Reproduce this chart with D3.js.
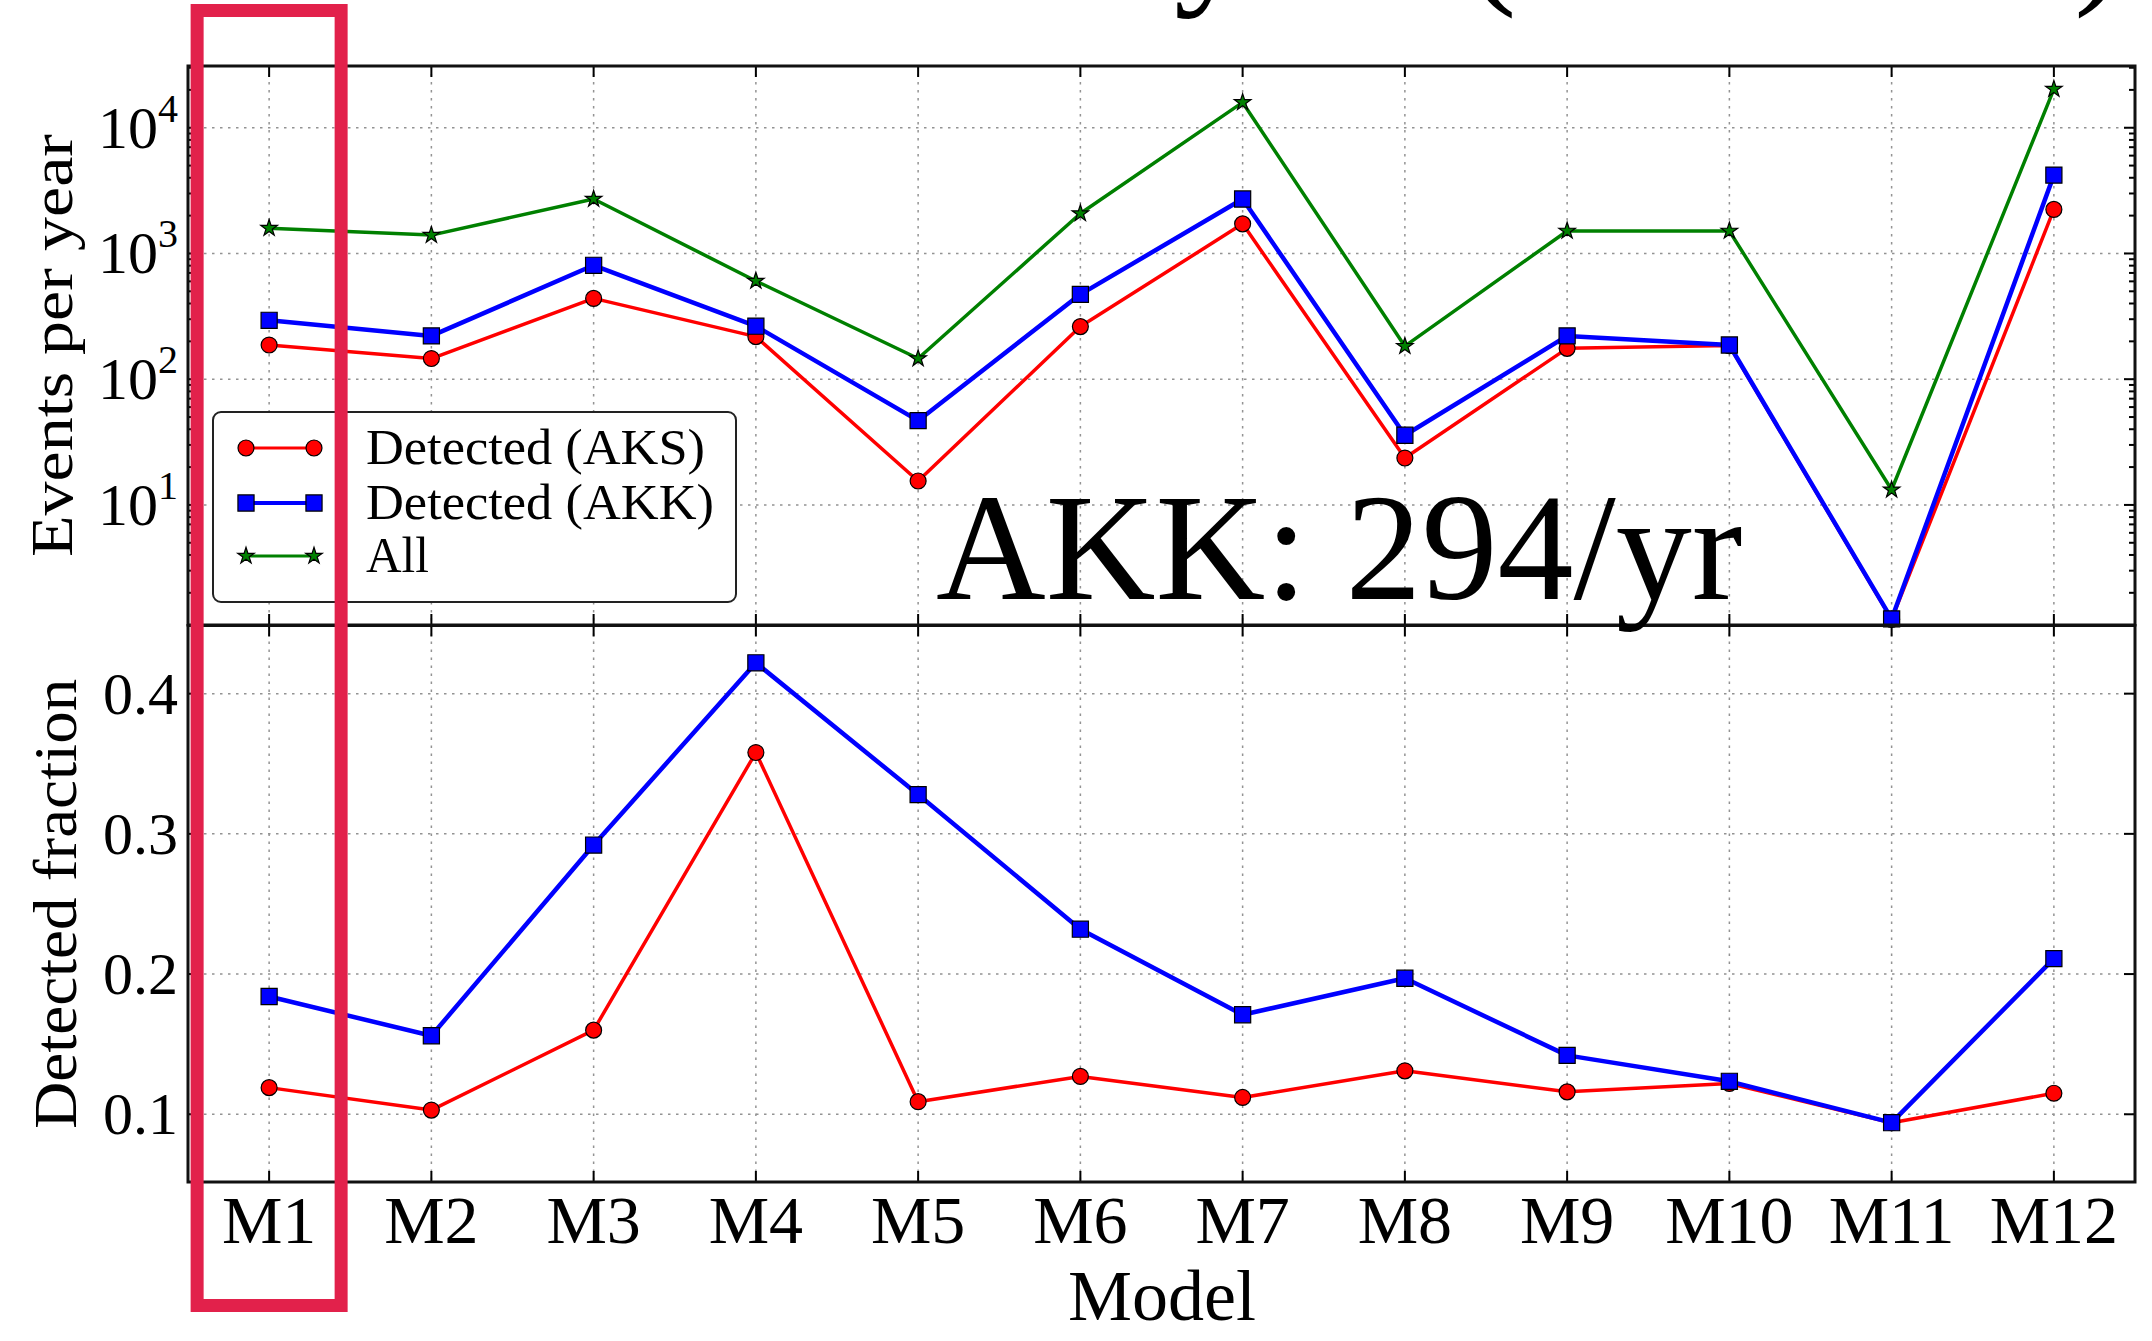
<!DOCTYPE html>
<html>
<head>
<meta charset="utf-8">
<script src="https://cdn.jsdelivr.net/npm/d3@7"></script>
<style>
  html, body { margin: 0; padding: 0; background: #fff; }
  svg { display: block; }
  text { font-family: "Liberation Serif", "Times New Roman", serif; fill: #000; }
</style>
</head>
<body>
<svg id="chart" width="2152" height="1341"></svg>
<script>
// Models on the x axis
const models = ["M1", "M2", "M3", "M4", "M5", "M6", "M7", "M8", "M9", "M10", "M11", "M12"];

// Events per year (upper panel, log scale)
const allEvents = [1590, 1400, 2710, 604, 146, 2080, 15900, 183, 1510, 1510, 13.2, 20300];
const aksEvents = [187, 146, 439, 218, 15.5, 262, 1720, 23.6, 176, 185, 1.23, 2240];
const akkEvents = [294, 221, 805, 264, 46.8, 473, 2710, 35.8, 221, 187, 1.24, 4200];

// Detected fraction (lower panel)
const aksFraction = [0.119, 0.103, 0.160, 0.358, 0.109, 0.127, 0.112, 0.131, 0.116, 0.122, 0.094, 0.115];
const akkFraction = [0.184, 0.156, 0.292, 0.422, 0.328, 0.232, 0.171, 0.197, 0.142, 0.1235, 0.094, 0.211];

// Tick values
const eventTickExponents = [1, 2, 3, 4];
const fractionTicks = [0.1, 0.2, 0.3, 0.4];

// Legend entries
const legendLabels = ["Detected (AKS)", "Detected (AKK)", "All"];

// Annotation
const highlightModel = "M1";
const annotationText = "AKK: 294/yr";

const svg = d3.select("#chart");
svg.append("rect").attr("width", 2152).attr("height", 1341).attr("fill", "#fff");

const left = 188, right = 2135;
const topY0 = 66, topY1 = 625;
const botY0 = 625.5, botY1 = 1182;

const x = d3.scaleLinear().domain([0.5, models.length + 0.5]).range([left, right]);
const yTop = d3.scaleLog().domain([Math.pow(10, 0.045), Math.pow(10, 4.491)]).range([topY1, topY0]);
const yBot = d3.scaleLinear().domain([0.0517, 0.4486]).range([botY1, botY0]);

const idx = models.map((m, i) => i + 1);

const colors = { aks: "#ff0000", akk: "#0000ff", all: "#008000" };

// ---------- grid ----------
const grid = svg.append("g").attr("stroke", "#666").attr("stroke-width", 1.5)
  .attr("stroke-dasharray", "2.5,5.5").attr("opacity", 0.7);

idx.forEach(i => {
  grid.append("line").attr("x1", x(i)).attr("x2", x(i)).attr("y1", topY0).attr("y2", topY1);
  grid.append("line").attr("x1", x(i)).attr("x2", x(i)).attr("y1", botY0).attr("y2", botY1);
});
eventTickExponents.forEach(e => {
  const yy = yTop(Math.pow(10, e));
  grid.append("line").attr("x1", left).attr("x2", right).attr("y1", yy).attr("y2", yy);
});
fractionTicks.forEach(v => {
  grid.append("line").attr("x1", left).attr("x2", right).attr("y1", yBot(v)).attr("y2", yBot(v));
});

// ---------- ticks (inward, on all four sides) ----------
const ticks = svg.append("g").attr("stroke", "#000").attr("stroke-width", 2);
const majorLen = 11, minorLen = 6;
idx.forEach(i => {
  [[topY0, 1], [topY1, -1], [botY0, 1], [botY1, -1]].forEach(([yy, dir]) => {
    ticks.append("line").attr("x1", x(i)).attr("x2", x(i)).attr("y1", yy).attr("y2", yy + dir * majorLen);
  });
});
// log axis: major and minor ticks
const [lo, hi] = yTop.domain();
for (let e = 0; e <= 4; e++) {
  for (let m = 1; m <= 9; m++) {
    const v = m * Math.pow(10, e);
    if (v < lo || v > hi) continue;
    const len = m === 1 ? majorLen : minorLen;
    const yy = yTop(v);
    ticks.append("line").attr("x1", left).attr("x2", left + len).attr("y1", yy).attr("y2", yy);
    ticks.append("line").attr("x1", right).attr("x2", right - len).attr("y1", yy).attr("y2", yy);
  }
}
fractionTicks.forEach(v => {
  const yy = yBot(v);
  ticks.append("line").attr("x1", left).attr("x2", left + majorLen).attr("y1", yy).attr("y2", yy);
  ticks.append("line").attr("x1", right).attr("x2", right - majorLen).attr("y1", yy).attr("y2", yy);
});

// ---------- series ----------
function drawSeries(g, values, yScale, color, width, marker) {
  const line = d3.line().x((d, i) => x(i + 1)).y(d => yScale(d));
  g.append("path").datum(values).attr("d", line).attr("fill", "none")
    .attr("stroke", color).attr("stroke-width", width).attr("stroke-linejoin", "round");
  const sym = d3.symbol().type(marker.type).size(marker.size);
  g.selectAll(null).data(values).enter().append("path")
    .attr("d", sym)
    .attr("transform", (d, i) => `translate(${x(i + 1)},${yScale(d)})`)
    .attr("fill", color).attr("stroke", "#000").attr("stroke-width", 1.2);
}
const circleMk = { type: d3.symbolCircle, size: 200 };
const squareMk = { type: d3.symbolSquare, size: 260 };
const starMk = { type: d3.symbolStar, size: 85 };

const upper = svg.append("g");
drawSeries(upper, aksEvents, yTop, colors.aks, 3.5, circleMk);
drawSeries(upper, akkEvents, yTop, colors.akk, 4.5, squareMk);
drawSeries(upper, allEvents, yTop, colors.all, 3.5, starMk);

const lower = svg.append("g");
drawSeries(lower, aksFraction, yBot, colors.aks, 3.5, circleMk);
drawSeries(lower, akkFraction, yBot, colors.akk, 4.5, squareMk);

// ---------- frames ----------
svg.append("rect").attr("x", left).attr("y", topY0).attr("width", right - left).attr("height", topY1 - topY0)
  .attr("fill", "none").attr("stroke", "#111").attr("stroke-width", 3);
svg.append("rect").attr("x", left).attr("y", botY0).attr("width", right - left).attr("height", botY1 - botY0)
  .attr("fill", "none").attr("stroke", "#111").attr("stroke-width", 3);

// ---------- tick labels ----------
eventTickExponents.forEach(e => {
  const t = svg.append("text").attr("x", 178).attr("y", yTop(Math.pow(10, e)) + 20)
    .attr("text-anchor", "end").attr("font-size", 60);
  t.append("tspan").text("10");
  t.append("tspan").attr("dy", -26).attr("font-size", 40).text(String(e));
});
fractionTicks.forEach(v => {
  svg.append("text").attr("x", 178).attr("y", yBot(v) + 20).attr("text-anchor", "end")
    .attr("font-size", 60).text(d3.format(".1f")(v));
});
models.forEach((m, i) => {
  svg.append("text").attr("x", x(i + 1)).attr("y", 1243).attr("text-anchor", "middle")
    .attr("font-size", 68).text(m);
});

// ---------- axis titles ----------
svg.append("text").attr("x", 1162).attr("y", 1320).attr("text-anchor", "middle")
  .attr("font-size", 72).text("Model");
svg.append("text").attr("transform", `translate(72,${(topY0 + topY1) / 2}) rotate(-90)`)
  .attr("text-anchor", "middle").attr("font-size", 60)
  .attr("textLength", 423).attr("lengthAdjust", "spacingAndGlyphs").text("Events per year");
svg.append("text").attr("transform", `translate(76,${(botY0 + botY1) / 2}) rotate(-90)`)
  .attr("text-anchor", "middle").attr("font-size", 62)
  .attr("textLength", 450).attr("lengthAdjust", "spacingAndGlyphs").text("Detected fraction");

// ---------- legend ----------
const legend = svg.append("g");
legend.append("rect").attr("x", 213).attr("y", 412).attr("width", 523).attr("height", 190)
  .attr("rx", 8).attr("fill", "#fff").attr("stroke", "#222").attr("stroke-width", 2);
const legendRows = [
  { label: legendLabels[0], color: colors.aks, width: 3, mk: circleMk, y: 448, len: 339 },
  { label: legendLabels[1], color: colors.akk, width: 4, mk: squareMk, y: 503, len: 348 },
  { label: legendLabels[2], color: colors.all, width: 3, mk: starMk, y: 556, len: 63 }
];
legendRows.forEach(r => {
  legend.append("line").attr("x1", 246).attr("x2", 314).attr("y1", r.y).attr("y2", r.y)
    .attr("stroke", r.color).attr("stroke-width", r.width);
  [246, 314].forEach(px => {
    legend.append("path").attr("d", d3.symbol().type(r.mk.type).size(r.mk.size))
      .attr("transform", `translate(${px},${r.y})`)
      .attr("fill", r.color).attr("stroke", "#000").attr("stroke-width", 1.2);
  });
  legend.append("text").attr("x", 366).attr("y", r.y + 16).attr("font-size", 50)
    .attr("textLength", r.len).attr("lengthAdjust", "spacingAndGlyphs").text(r.label);
});

// ---------- heading line, running off the top edge ----------
const heading = svg.append("g").attr("font-size", 152);
[["y", 1174], ["(", 1466], [")", 2074]].forEach(([ch, px]) => {
  heading.append("text").attr("x", px).attr("y", -14).text(ch);
});

// ---------- highlight and annotation ----------
const hx = x(models.indexOf(highlightModel) + 1);
svg.append("rect").attr("x", hx - 72).attr("y", 10.5).attr("width", 144).attr("height", 1295)
  .attr("fill", "none").attr("stroke", "#e2214b").attr("stroke-width", 13);
svg.append("text").attr("x", 936).attr("y", 599).attr("font-size", 152).text(annotationText);
</script>
</body>
</html>
